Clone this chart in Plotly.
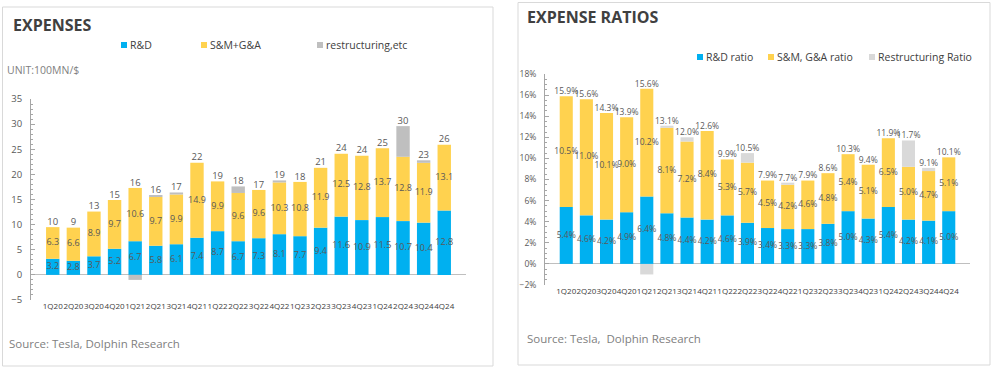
import plotly.graph_objects as go

quarters = ['1Q20', '2Q20', '3Q20', '4Q20', '1Q21', '2Q21', '3Q21', '4Q21', '1Q22', '2Q22',
            '3Q22', '4Q22', '1Q23', '2Q23', '3Q23', '4Q23', '1Q24', '2Q24', '3Q24', '4Q24']

# Left chart: expenses (100MN $)
rd = [3.2, 2.8, 3.7, 5.2, 6.7, 5.8, 6.1, 7.4, 8.7, 6.7, 7.3, 8.1, 7.7, 9.4, 11.6, 10.9, 11.5, 10.7, 10.4, 12.8]
sga = [6.3, 6.6, 8.9, 9.7, 10.6, 9.7, 9.9, 14.9, 9.9, 9.6, 9.6, 10.3, 10.8, 11.9, 12.5, 12.8, 13.7, 12.8, 11.9, 13.1]
restr = [0, 0, 0, 0, -1.0, 0.3, 0.4, 0, 0, 1.3, 0, 0.4, 0, 0, 0, 0, 0, 6.1, 0.5, 0]
total_labels = ['10', '9', '13', '15', '16', '16', '17', '22', '19', '18',
                '17', '19', '18', '21', '24', '24', '25', '30', '23', '26']
legend_left = ['R&D', 'S&M+G&A', 'restructuring,etc']

# Right chart: expense ratios (%)
rd_r = [5.4, 4.6, 4.2, 4.9, 6.4, 4.8, 4.4, 4.2, 4.6, 3.9, 3.4, 3.3, 3.3, 3.8, 5.0, 4.3, 5.4, 4.2, 4.1, 5.0]
sga_r = [10.5, 11.0, 10.1, 9.0, 10.2, 8.1, 7.2, 8.4, 5.3, 5.7, 4.5, 4.2, 4.6, 4.8, 5.4, 5.1, 6.5, 5.0, 4.7, 5.1]
restr_r = [0, 0, 0, 0, -1.0, 0.2, 0.4, 0, 0, 0.9, 0, 0.2, 0, 0, 0, 0, 0, 2.5, 0.3, 0]
total_labels_r = ['15.9%', '15.6%', '14.3%', '13.9%', '15.6%', '13.1%', '12.0%', '12.6%', '9.9%', '10.5%',
                  '7.9%', '7.7%', '7.9%', '8.6%', '10.3%', '9.4%', '11.9%', '11.7%', '9.1%', '10.1%']
legend_right = ['R&D ratio', 'S&M, G&A ratio', 'Restructuring Ratio']

BLUE = '#00B0F0'
YELLOW = '#FFD24F'
GRAY_L = '#BFBFBF'
GRAY_R = '#D9D9D9'
TXT = '#595959'
FONT = 'Open Sans'

W, H = 1000, 371


def px(v):
    return v / W


def py(v):
    return 1 - v / H


fig = go.Figure()

# ---------- left chart ----------
for vals, name, col in zip([rd, sga, restr], legend_left, [BLUE, YELLOW, GRAY_L]):
    fig.add_trace(go.Bar(x=quarters, y=vals, name=name, marker_color=col, marker_line_width=0,
                         xaxis='x', yaxis='y', showlegend=False))

fig.add_trace(go.Scatter(x=quarters, y=[v / 2 for v in rd], text=[f'{v:.1f}' for v in rd],
                         mode='text', textfont=dict(size=9, color=TXT, family=FONT),
                         showlegend=False, hoverinfo='skip', xaxis='x', yaxis='y'))
fig.add_trace(go.Scatter(x=quarters, y=[a + b / 2 for a, b in zip(rd, sga)], text=[f'{v:.1f}' for v in sga],
                         mode='text', textfont=dict(size=9, color=TXT, family=FONT),
                         showlegend=False, hoverinfo='skip', xaxis='x', yaxis='y'))
fig.add_trace(go.Scatter(x=quarters, y=[a + b + max(c, 0) for a, b, c in zip(rd, sga, restr)],
                         text=total_labels, mode='text', textposition='top center',
                         textfont=dict(size=9.5, color=TXT, family=FONT),
                         showlegend=False, hoverinfo='skip', xaxis='x', yaxis='y'))

# ---------- right chart ----------
for vals, name, col in zip([rd_r, sga_r, restr_r], legend_right, [BLUE, YELLOW, GRAY_R]):
    fig.add_trace(go.Bar(x=quarters, y=vals, name=name, marker_color=col, marker_line_width=0,
                         xaxis='x2', yaxis='y2', showlegend=False))

fig.add_trace(go.Scatter(x=quarters, y=[v / 2 for v in rd_r], text=[f'{v:.1f}%' for v in rd_r],
                         mode='text', textfont=dict(size=8.5, color=TXT, family=FONT),
                         showlegend=False, hoverinfo='skip', xaxis='x2', yaxis='y2'))
fig.add_trace(go.Scatter(x=quarters, y=[a + b / 2 for a, b in zip(rd_r, sga_r)], text=[f'{v:.1f}%' for v in sga_r],
                         mode='text', textfont=dict(size=8.5, color=TXT, family=FONT),
                         showlegend=False, hoverinfo='skip', xaxis='x2', yaxis='y2'))
fig.add_trace(go.Scatter(x=quarters, y=[a + b + max(c, 0) for a, b, c in zip(rd_r, sga_r, restr_r)],
                         text=total_labels_r, mode='text', textposition='top center',
                         textfont=dict(size=8.5, color=TXT, family=FONT),
                         showlegend=False, hoverinfo='skip', xaxis='x2', yaxis='y2'))

yaxis_common = dict(showgrid=False, showline=True, linecolor='#A6A6A6', linewidth=1,
                    ticks='inside', ticklen=4, tickcolor='#A6A6A6', automargin=False,
                    zeroline=True, zerolinecolor='#BFBFBF', zerolinewidth=1, ticklabelstandoff=6)
xaxis_common = dict(showgrid=False, showline=False, ticks='', tickangle=0, automargin=False,
                    tickfont=dict(size=8, color='#404040', family=FONT))

shapes = [
    dict(type='rect', xref='paper', yref='paper', x0=px(2.5), x1=px(493), y0=py(366), y1=py(7),
         line=dict(color='#D9D9D9', width=1), layer='below'),
    dict(type='rect', xref='paper', yref='paper', x0=px(518), x1=px(990), y0=py(365), y1=py(2.5),
         line=dict(color='#D9D9D9', width=1), layer='below'),
]
annotations = [
    dict(text='<b>EXPENSES</b>', x=px(11), y=py(25), xanchor='left', yanchor='middle',
         font=dict(size=16, color='#404040', family=FONT)),
    dict(text='UNIT:100MN/$', x=px(5), y=py(70), xanchor='left', yanchor='middle',
         font=dict(size=10.5, color='#808080', family=FONT)),
    dict(text='Source: Tesla, Dolphin Research', x=px(7), y=py(343), xanchor='left', yanchor='middle',
         font=dict(size=11.5, color='#808080', family=FONT)),
    dict(text='<b>EXPENSE RATIOS</b>', x=px(525), y=py(17), xanchor='left', yanchor='middle',
         font=dict(size=16, color='#404040', family=FONT)),
    dict(text='Source: Tesla,  Dolphin Research', x=px(525), y=py(338), xanchor='left', yanchor='middle',
         font=dict(size=11.5, color='#808080', family=FONT)),
]

# legends (small squares + labels, as in the reference)
for names, cols, xs, yc in [(legend_left, [BLUE, YELLOW, GRAY_L], [124, 204, 320], 45),
                            (legend_right, [BLUE, YELLOW, GRAY_R], [700, 771, 872], 57)]:
    for name, col, x in zip(names, cols, xs):
        shapes.append(dict(type='rect', xref='paper', yref='paper', x0=px(x - 3), x1=px(x + 3),
                           y0=py(yc + 3), y1=py(yc - 3), fillcolor=col, line=dict(width=0)))
        annotations.append(dict(text=name, x=px(x + 4), y=py(yc), xanchor='left', yanchor='middle',
                                font=dict(size=10.5, color='#404040', family=FONT)))

for a in annotations:
    a.update(xref='paper', yref='paper', showarrow=False)

fig.update_layout(
    width=W, height=H, margin=dict(l=0, r=0, t=0, b=0, autoexpand=False),
    paper_bgcolor='white', plot_bgcolor='white',
    barmode='relative', bargap=0.35, showlegend=False,
    font=dict(family=FONT, color=TXT),
    xaxis=dict(domain=[px(31), px(466)], anchor='y', **xaxis_common),
    yaxis=dict(domain=[py(300), py(99)], anchor='x', range=[-5, 35], dtick=5,
               tickfont=dict(size=9.5, color=TXT, family=FONT),
               minor=dict(dtick=1, ticks='inside', ticklen=2, tickcolor='#A6A6A6'),
               **yaxis_common),
    xaxis2=dict(domain=[px(545), px(970)], anchor='y2', **xaxis_common),
    yaxis2=dict(domain=[py(285), py(74)], anchor='x2', range=[-2, 18], dtick=2,
                tickfont=dict(size=8.5, color=TXT, family=FONT),
                ticksuffix='%', minor=dict(dtick=0.5, ticks='inside', ticklen=2, tickcolor='#A6A6A6'),
                **yaxis_common),
    shapes=shapes,
    annotations=annotations,
)

fig.write_html('out.html', config={'displayModeBar': False},
               post_script="document.body.style.margin='0';")
